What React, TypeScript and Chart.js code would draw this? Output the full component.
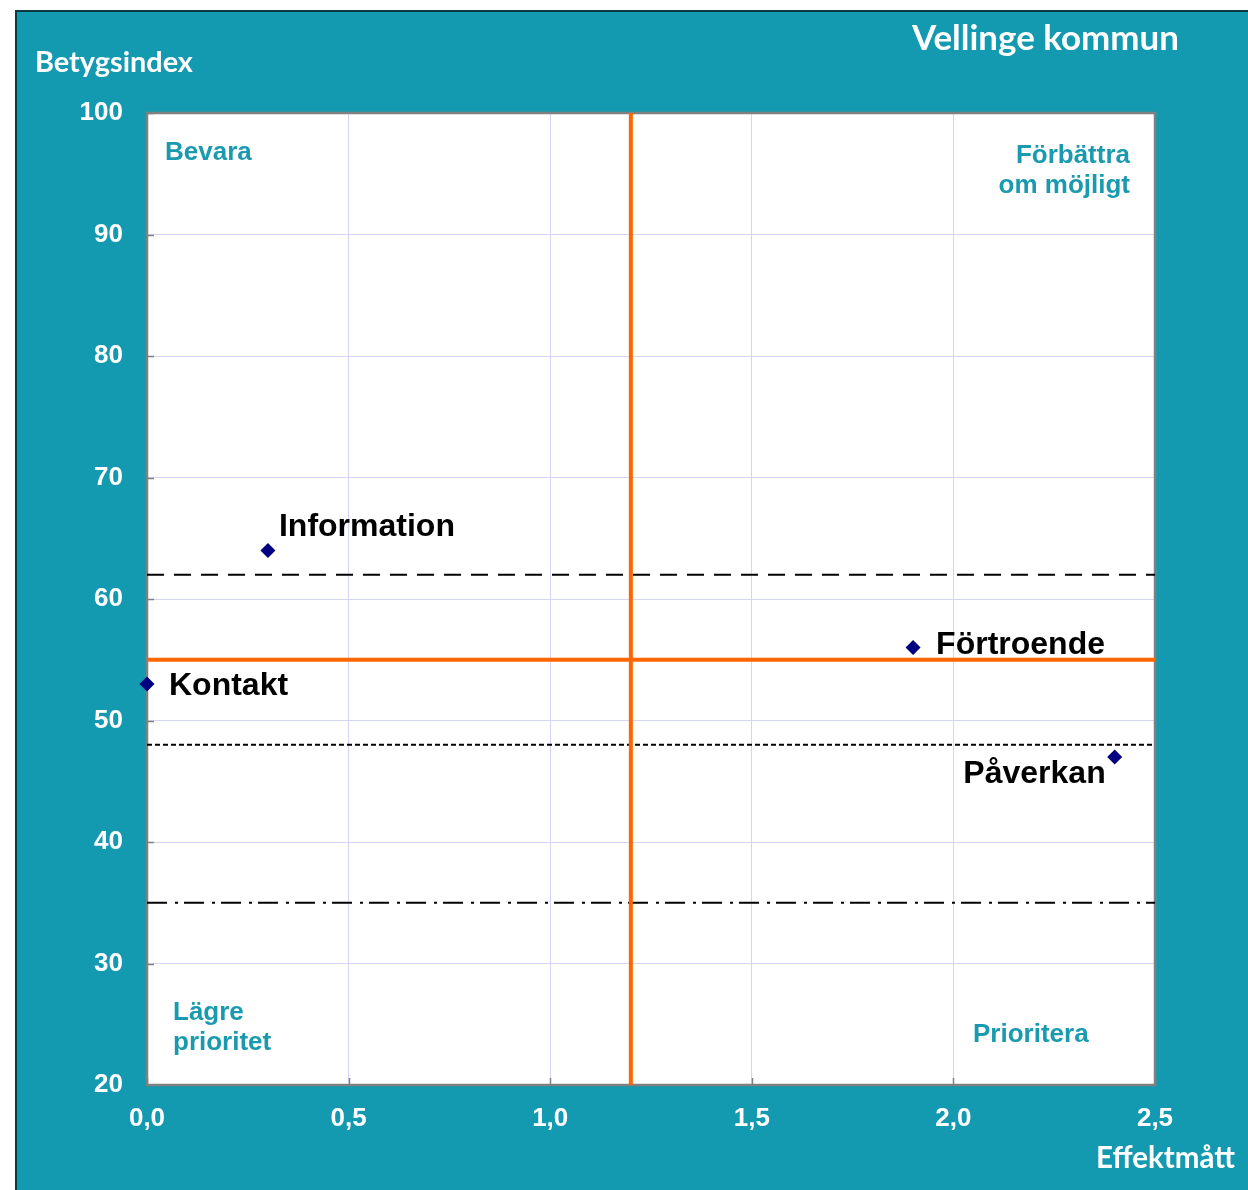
import React, { useEffect, useRef } from 'react';
import { Chart, registerables } from 'chart.js';

Chart.register(...registerables);

// ---- Data ----
const pointNames = ['Information', 'Kontakt', 'Förtroende', 'Påverkan'];
const effektValues = [0.3, 0.0, 1.9, 2.4];
const betygValues = [64, 53, 56, 47];

const xMin = 0;
const xMax = 2.5;
const xStep = 0.5;
const yMin = 20;
const yMax = 100;
const yStep = 10;

const midEffekt = 1.2;
const midBetyg = 55;
const refLongDash = 62;
const refShortDash = 48;
const refDashDot = 35;

const titleText = 'Vellinge kommun';
const yAxisTitle = 'Betygsindex';
const xAxisTitle = 'Effektmått';
const quadTopLeft = ['Bevara'];
const quadTopRight = ['Förbättra', 'om möjligt'];
const quadBottomLeft = ['Lägre', 'prioritet'];
const quadBottomRight = ['Prioritera'];

// ---- Styles ----
const TEAL = '#149AB0';
const QUAD_COLOR = '#1A9AAE';
const ORANGE = '#FF6600';
const NAVY = '#000080';
const GRID = '#D4D4F6';

// label placement relative to point pixel (style only)
const labelStyle = [
  { dx: 11, dy: -14, align: 'left' },
  { dx: 22, dy: 11, align: 'left' },
  { dx: 23, dy: 6, align: 'left' },
  { dx: -9, dy: 26, align: 'right' },
];

function fitFont(ctx: CanvasRenderingContext2D, text: string, family: string, width: number) {
  ctx.font = `bold 100px ${family}`;
  const w = ctx.measureText(text).width;
  const size = (100 * width) / w;
  return `bold ${size.toFixed(2)}px ${family}`;
}

const decorPlugin = {
  id: 'decor',
  beforeDraw(chart: any) {
    const { ctx, chartArea } = chart;
    ctx.save();
    ctx.fillStyle = '#ffffff';
    ctx.fillRect(0, 0, chart.width, chart.height);
    ctx.fillStyle = TEAL;
    ctx.fillRect(15, 10, chart.width - 15, chart.height - 10);
    ctx.strokeStyle = '#0B3A44';
    ctx.lineWidth = 2;
    ctx.beginPath();
    ctx.moveTo(16, chart.height);
    ctx.lineTo(16, 11);
    ctx.lineTo(chart.width, 11);
    ctx.stroke();
    ctx.fillStyle = '#ffffff';
    ctx.fillRect(chartArea.left, chartArea.top, chartArea.right - chartArea.left, chartArea.bottom - chartArea.top);
    ctx.restore();
  },
  beforeDatasetsDraw(chart: any) {
    const { ctx, chartArea, scales } = chart;
    ctx.save();
    // inward tick marks
    ctx.strokeStyle = '#808080';
    ctx.lineWidth = 1.5;
    ctx.beginPath();
    for (let v = yMin; v <= yMax; v += yStep) {
      const py = Math.round(scales.y.getPixelForValue(v)) + 0.5;
      ctx.moveTo(chartArea.left, py);
      ctx.lineTo(chartArea.left + 7, py);
    }
    for (let i = 0; i * xStep <= xMax + 1e-9; i++) {
      const px = Math.round(scales.x.getPixelForValue(i * xStep)) + 0.5;
      ctx.moveTo(px, chartArea.bottom);
      ctx.lineTo(px, chartArea.bottom - 7);
    }
    ctx.stroke();
    // frame
    ctx.strokeStyle = '#808080';
    ctx.lineWidth = 2.5;
    ctx.strokeRect(chartArea.left, chartArea.top, chartArea.right - chartArea.left, chartArea.bottom - chartArea.top);
    ctx.restore();
  },
  afterDraw(chart: any) {
    const { ctx, chartArea, scales } = chart;
    ctx.save();
    // titles
    ctx.fillStyle = '#ffffff';
    ctx.textBaseline = 'alphabetic';
    ctx.textAlign = 'left';
    ctx.font = fitFont(ctx, titleText, 'Lato', 267);
    ctx.fillText(titleText, 912, 50);
    ctx.font = fitFont(ctx, yAxisTitle, 'Lato', 158);
    ctx.fillText(yAxisTitle, 35, 72);
    ctx.font = fitFont(ctx, xAxisTitle, 'Lato', 139);
    ctx.fillText(xAxisTitle, 1096, 1168);

    // quadrant labels
    ctx.fillStyle = QUAD_COLOR;
    ctx.font = 'bold 26px "Liberation Sans", Arial, sans-serif';
    ctx.textAlign = 'left';
    quadTopLeft.forEach((t, i) => ctx.fillText(t, chartArea.left + 18, chartArea.top + 47 + i * 30));
    ctx.textAlign = 'right';
    quadTopRight.forEach((t, i) => ctx.fillText(t, chartArea.right - 25, chartArea.top + 50 + i * 30));
    ctx.textAlign = 'left';
    quadBottomLeft.forEach((t, i) => ctx.fillText(t, chartArea.left + 26, chartArea.bottom - 65 + i * 30));
    quadBottomRight.forEach((t, i) => ctx.fillText(t, chartArea.right - 182, chartArea.bottom - 43 + i * 30));

    // data labels
    ctx.fillStyle = '#000000';
    ctx.font = 'bold 32px "Liberation Sans", Arial, sans-serif';
    pointNames.forEach((name, i) => {
      const px = scales.x.getPixelForValue(effektValues[i]);
      const py = scales.y.getPixelForValue(betygValues[i]);
      const st = labelStyle[i];
      ctx.textAlign = st.align as CanvasTextAlign;
      ctx.fillText(name, px + st.dx, py + st.dy);
    });
    ctx.restore();
  },
};

export default function App() {
  const ref = useRef<HTMLCanvasElement>(null);

  useEffect(() => {
    if (!ref.current) return;
    const hLine = (y: number) => [
      { x: xMin, y },
      { x: xMax, y },
    ];
    const chart = new Chart(ref.current, {
      type: 'scatter',
      data: {
        datasets: [
          {
            type: 'scatter',
            label: 'Områden',
            data: effektValues.map((x, i) => ({ x, y: betygValues[i] })),
            pointStyle: 'rectRot',
            pointRadius: 7.5,
            pointBackgroundColor: NAVY,
            pointBorderColor: NAVY,
            pointBorderWidth: 0,
            clip: false as any,
            order: 0,
          } as any,
          {
            type: 'line',
            label: 'ref62',
            data: hLine(refLongDash),
            borderColor: '#000000',
            borderWidth: 2,
            borderDash: [17, 10],
            pointRadius: 0,
            showLine: true,
            order: 3,
          },
          {
            type: 'line',
            label: 'ref48',
            data: hLine(refShortDash),
            borderColor: '#000000',
            borderWidth: 2,
            borderDash: [5, 3],
            pointRadius: 0,
            showLine: true,
            order: 3,
          },
          {
            type: 'line',
            label: 'ref35',
            data: hLine(refDashDot),
            borderColor: '#000000',
            borderWidth: 2,
            borderDash: [20, 8, 3, 6],
            pointRadius: 0,
            showLine: true,
            order: 3,
          },
          {
            type: 'line',
            label: 'midY',
            data: hLine(midBetyg),
            borderColor: ORANGE,
            borderWidth: 4,
            pointRadius: 0,
            showLine: true,
            order: 2,
          },
          {
            type: 'line',
            label: 'midX',
            data: [
              { x: midEffekt, y: yMin },
              { x: midEffekt, y: yMax },
            ],
            borderColor: ORANGE,
            borderWidth: 4,
            pointRadius: 0,
            showLine: true,
            order: 2,
          },
        ] as any,
      },
      options: {
        responsive: false,
        animation: false,
        devicePixelRatio: 1,
        layout: { padding: { top: 113, right: 93, left: 0, bottom: 0 } },
        plugins: {
          legend: { display: false },
          tooltip: { enabled: false },
          title: { display: false },
        },
        scales: {
          x: {
            type: 'linear',
            min: xMin,
            max: xMax,
            grid: { color: GRID, lineWidth: 1, drawTicks: false },
            border: { display: false },
            ticks: {
              stepSize: xStep,
              padding: 18,
              color: '#ffffff',
              font: { family: '"Liberation Sans", Arial, sans-serif', size: 26, weight: 'bold' },
              callback: (v: any) => Number(v).toFixed(1).replace('.', ','),
            },
            afterFit: (scale: any) => {
              scale.height = 105;
            },
          },
          y: {
            type: 'linear',
            min: yMin,
            max: yMax,
            grid: { color: GRID, lineWidth: 1, drawTicks: false },
            border: { display: false },
            ticks: {
              stepSize: yStep,
              padding: 24,
              color: '#ffffff',
              font: { family: '"Liberation Sans", Arial, sans-serif', size: 26, weight: 'bold' },
              callback: (v: any) => String(v),
            },
            afterFit: (scale: any) => {
              scale.width = 147;
            },
          },
        },
      } as any,
      plugins: [decorPlugin],
    });
    return () => chart.destroy();
  }, []);

  return (
    <div style={{ position: 'absolute', left: 0, top: 0, width: 1248, height: 1190 }}>
      <canvas ref={ref} width={1248} height={1190} style={{ display: 'block', width: 1248, height: 1190 }} />
    </div>
  );
}
